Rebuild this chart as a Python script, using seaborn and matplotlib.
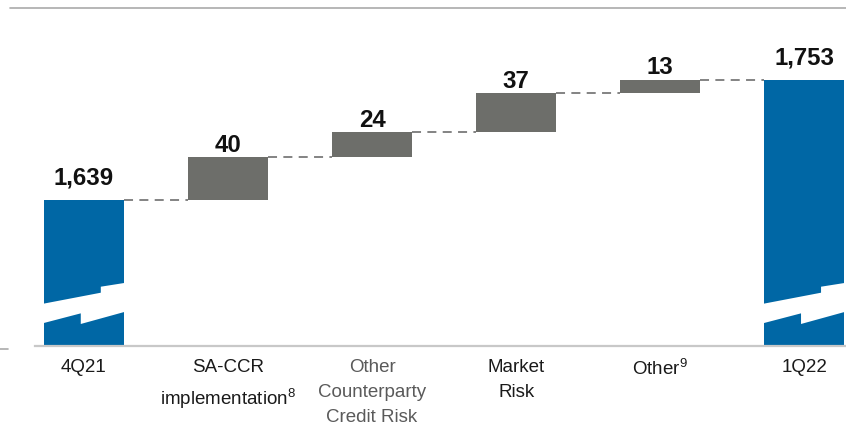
import matplotlib
matplotlib.use("Agg")
import matplotlib.pyplot as plt
import seaborn as sns
import pandas as pd
from matplotlib.lines import Line2D
from matplotlib.patches import Polygon

# Datos del gráfico
categorias = ["4Q21", "SA-CCR\nimplementation$^{\\mathrm{8}}$", "Other\nCounterparty\nCredit Risk",
              "Market\nRisk", "Other$^{\\mathrm{9}}$", "1Q22"]
valores = [1639, 40, 24, 37, 13, 1753]
etiquetas = ["1,639", "40", "24", "37", "13", "1,753"]
es_total = [True, False, False, False, False, True]
color_etiqueta = ["#1a1a1a", "#1a1a1a", "#5a5a5a", "#1a1a1a", "#1a1a1a", "#1a1a1a"]

azul = "#0067A5"
gris = "#6D6E6A"

# Base de cada barra (cascada)
bases = []
acumulado = 0
for v, tot in zip(valores, es_total):
    if tot:
        bases.append(0)
        acumulado = v
    else:
        bases.append(acumulado)
        acumulado += v
topes = [b + v for b, v in zip(bases, valores)]

df = pd.DataFrame({"cat": categorias, "altura": valores, "base": bases})

sns.set_theme(style="white")
plt.rcParams["font.family"] = ["Liberation Sans", "DejaVu Sans"]
plt.rcParams["mathtext.fontset"] = "custom"
plt.rcParams["mathtext.rm"] = "Liberation Sans"
plt.rcParams["mathtext.it"] = "Liberation Sans:italic"
plt.rcParams["mathtext.bf"] = "Liberation Sans:bold"

fig = plt.figure(figsize=(8.46, 4.26), dpi=100)
ax = fig.add_axes([35 / 846, 80 / 426, 811 / 846, 316 / 426])

ancho = 0.556
sns.barplot(data=df, x="cat", y="altura", bottom=df["base"].values, width=ancho,
            color=gris, saturation=1, errorbar=None, ax=ax)
for p, tot in zip(ax.patches, es_total):
    p.set_facecolor(azul if tot else gris)
    p.set_edgecolor("none")

ax.set_xlim(-0.34, 5.29)
ax.set_ylim(1500, 1800)

# Símbolo de corte en las barras totales
corte_sup = [(0.0, 1540), (0.71, 1550.6), (0.71, 1556.3), (1.0, 1560)]
corte_inf = [(1.0, 1532.6), (0.46, 1520.9), (0.46, 1531), (0.0, 1521.5)]
for i, tot in enumerate(es_total):
    if not tot:
        continue
    x0 = i - ancho / 2
    pts = [(x0 + f * ancho, y) for f, y in corte_sup + corte_inf]
    pts = [(x - 0.01 if x <= x0 + 1e-6 else (x + 0.01 if x >= x0 + ancho - 1e-6 else x), y) for x, y in pts]
    ax.add_patch(Polygon(pts, closed=True, facecolor="white", edgecolor="none", zorder=3))

# Líneas de conexión
for i in range(len(valores) - 1):
    nivel = topes[i]
    ax.plot([i + ancho / 2, i + 1 - ancho / 2], [nivel, nivel], color="#7a7a7a",
            lw=1.3, linestyle=(0, (5, 3.5)), zorder=2)

# Etiquetas de valor
for i, (t, tot) in enumerate(zip(etiquetas, es_total)):
    ax.annotate(t, xy=(i, topes[i]), xytext=(0, 10.8 if tot else 3.8),
                textcoords="offset points", ha="center", va="baseline",
                fontsize=17.3, fontweight="bold", color="#111111")

ax.set_xticks(range(len(categorias)))
ax.set_xticklabels(categorias, fontsize=13.5, linespacing=1.62)
for lab, c in zip(ax.get_xticklabels(), color_etiqueta):
    lab.set_color(c)
ax.tick_params(axis="x", length=0, pad=9)
ax.set_yticks([])
ax.set_xlabel("")
ax.set_ylabel("")
for s in ["left", "top", "right"]:
    ax.spines[s].set_visible(False)
ax.spines["bottom"].set_color("#C8C8C8")
ax.spines["bottom"].set_linewidth(1.6)

# Líneas decorativas
fig.add_artist(Line2D([10 / 846, 1], [1 - 8 / 426] * 2, color="#AAAAAA", lw=1.2,
                      transform=fig.transFigure))
fig.add_artist(Line2D([0, 8 / 846], [1 - 349 / 426] * 2, color="#AAAAAA", lw=1.2,
                      transform=fig.transFigure))

fig.savefig("out.png", dpi=100)
